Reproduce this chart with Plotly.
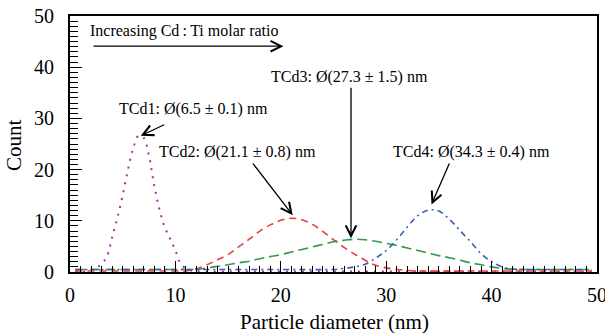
import plotly.graph_objects as go

# ---- data ----
x_tcd1 = [0.5, 1, 1.5, 2, 2.5, 3, 3.5, 4, 4.5, 5, 5.5, 6, 6.5, 7, 7.5, 8, 8.5, 9, 9.5,
          10, 10.5, 11, 11.5, 12, 15, 20, 25, 30, 35, 40, 45, 49.5]
y_tcd1 = [0.1, 0.1, 0.1, 0.3, 0.8, 1.6, 3.0, 6.8, 10.6, 15.0, 20.0, 24.2, 26.6, 26.2, 22.6,
          16.8, 12.1, 8.7, 6.5, 4.2, 1.6, 0.7, 0.3, 0.15, 0.1, 0.1, 0.1, 0.1, 0.1, 0.1, 0.1, 0.1]

x_tcd2 = [0.5, 5, 10, 11, 11.5, 12, 13, 14, 15, 16, 17, 18, 19, 20, 21, 22, 23, 24, 25,
          26, 27, 28, 29, 30, 31, 32, 33, 40, 45, 49.5]
y_tcd2 = [0.2, 0.2, 0.2, 0.2, 0.4, 0.6, 1.4, 2.4, 3.4, 4.9, 6.4, 8.0, 9.2, 10.1, 10.5, 10.2,
          9.3, 7.9, 6.3, 4.8, 3.5, 2.3, 1.3, 0.8, 0.5, 0.3, 0.2, 0.2, 0.2, 0.2]

x_tcd3 = [0.5, 5, 10, 12, 13, 14, 15, 16, 17, 18, 19, 20, 21, 22, 23, 24, 25, 26, 27, 28,
          29, 30, 31, 32, 33, 34, 35, 36, 37, 38, 39, 40, 41, 42, 43, 45, 49.5]
y_tcd3 = [0.5, 0.5, 0.5, 0.5, 0.8, 1.1, 1.4, 1.8, 2.1, 2.6, 3.0, 3.4, 3.9, 4.4, 4.9, 5.4,
          5.9, 6.2, 6.4, 6.3, 6.0, 5.6, 5.2, 4.7, 4.2, 3.7, 3.2, 2.8, 2.3, 1.8, 1.4, 1.0,
          0.7, 0.55, 0.5, 0.5, 0.5]

x_tcd4 = [0.5, 5, 10, 15, 20, 25, 26, 27, 28, 29, 30, 31, 32, 33, 34, 35, 36, 37, 38, 39,
          40, 41, 42, 43, 45, 49.5]
y_tcd4 = [0.5, 0.5, 0.5, 0.5, 0.5, 0.5, 0.7, 1.0, 1.5, 2.7, 4.2, 6.3, 8.8, 11.0, 12.1, 11.9,
          10.3, 8.1, 5.9, 3.6, 2.0, 1.0, 0.6, 0.5, 0.5, 0.5]

x_ticks = [0, 10, 20, 30, 40, 50]
y_ticks = [0, 10, 20, 30, 40, 50]

FONT = "Liberation Serif"

fig = go.Figure()
fig.add_trace(go.Scatter(x=x_tcd1, y=y_tcd1, mode="lines", line_shape="spline",
                         line=dict(color="#a8329a", width=2, dash="2px,6px")))
fig.add_trace(go.Scatter(x=x_tcd2, y=y_tcd2, mode="lines", line_shape="spline",
                         line=dict(color="#ee3a3a", width=1.6, dash="7px,5px")))
fig.add_trace(go.Scatter(x=x_tcd3, y=y_tcd3, mode="lines", line_shape="spline",
                         line=dict(color="#2f9a4a", width=1.6, dash="10px,5px")))
fig.add_trace(go.Scatter(x=x_tcd4, y=y_tcd4, mode="lines", line_shape="spline",
                         line=dict(color="#3a5fb5", width=1.6, dash="6px,4px,2px,4px")))

ann_font = dict(family=FONT, size=16, color="black")
texts = [
    ("Increasing Cd\u2009:\u2009Ti molar ratio", 10.79, 47.1),
    ("TCd1: \u00d8(6.5 \u00b1 0.1) nm", 11.74, 31.8),
    ("TCd2: \u00d8(21.1 \u00b1 0.8) nm", 15.85, 23.5),
    ("TCd3: \u00d8(27.3 \u00b1 1.5) nm", 26.5, 38.1),
    ("TCd4: \u00d8(34.3 \u00b1 0.4) nm", 38.05, 23.5),
]
for t, tx, ty in texts:
    fig.add_annotation(x=tx, y=ty, xref="x", yref="y", text=t, showarrow=False,
                       font=ann_font, xanchor="center", yanchor="middle")

arrows = [
    (2.09, 44.1, 20.25, 44.1),
    (9.08, 28.9, 6.71, 26.6),
    (17.24, 21.5, 21.13, 11.1),
    (26.66, 36.3, 26.66, 6.6),
    (36.05, 21.5, 34.3, 13.2),
]
for axx, ayy, hx, hy in arrows:
    fig.add_annotation(x=hx, y=hy, ax=axx, ay=ayy, xref="x", yref="y", axref="x", ayref="y",
                       text="", showarrow=True, arrowhead=5, arrowsize=1.6, arrowwidth=1.3,
                       arrowcolor="black", standoff=0, startstandoff=0)

# axis titles
title_font = dict(family=FONT, size=21, color="black")
fig.add_annotation(x=-0.1063, y=0.496, xref="paper", yref="paper", text="Count",
                   textangle=-90, showarrow=False, font=title_font,
                   xanchor="center", yanchor="middle")
fig.add_annotation(x=0.501, y=-0.195, xref="paper", yref="paper",
                   text="Particle diameter (nm)", showarrow=False, font=title_font,
                   xanchor="center", yanchor="middle")

fig.update_layout(
    width=605, height=336,
    margin=dict(l=70, r=8, t=16, b=64, autoexpand=False),
    paper_bgcolor="white", plot_bgcolor="white",
    showlegend=False,
    font=dict(family=FONT, color="black"),
)
fig.update_xaxes(
    range=[0, 50], tickvals=x_ticks, ticktext=[str(v) for v in x_ticks],
    ticks="inside", ticklen=11, tickwidth=1.3, tickcolor="black",
    minor=dict(dtick=1, ticks="inside", ticklen=6, tickwidth=1.2, tickcolor="black"),
    showline=True, linewidth=2, linecolor="black", mirror=True,
    showgrid=False, zeroline=False, automargin=False,
    tickfont=dict(family=FONT, size=20, color="black"),
    ticklabelstandoff=4, ticklabeloverflow="allow",
)
fig.update_yaxes(
    range=[0, 50], tickvals=y_ticks, ticktext=[str(v) for v in y_ticks],
    ticks="inside", ticklen=12, tickwidth=1.3, tickcolor="black",
    minor=dict(dtick=1, ticks="inside", ticklen=8, tickwidth=1.2, tickcolor="black"),
    showline=True, linewidth=2, linecolor="black", mirror=True,
    showgrid=False, zeroline=False, automargin=False,
    tickfont=dict(family=FONT, size=20, color="black"),
    ticklabelstandoff=10, ticklabeloverflow="allow",
)

fig.write_html("out.html", config={"displayModeBar": False},
               post_script="document.body.style.margin='0px';document.body.style.padding='0px';")
